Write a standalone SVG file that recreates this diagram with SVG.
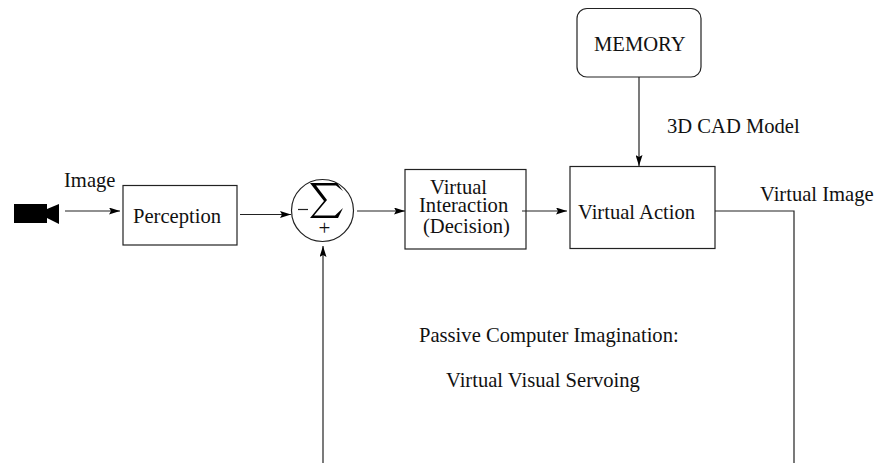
<svg xmlns="http://www.w3.org/2000/svg" width="875" height="463" viewBox="0 0 875 463">
<defs>
<marker id="arrow" markerUnits="userSpaceOnUse" markerWidth="11" markerHeight="7" refX="11" refY="3.500" orient="auto"><path d="M0,0 L11,3.500 L0,7 L2,3.500 Z" fill="#000"/></marker>
</defs>
<style>
text{font-family:"Liberation Serif","Times New Roman",serif;font-size:20.6px;fill:#111}
.b{fill:#fff;stroke:#222;stroke-width:1.2}
.c{fill:none;stroke:#222;stroke-width:1.2}
.a{marker-end:url(#arrow)}
</style>
<rect width="875" height="463" fill="#fff"/>
<g id="perception"><rect class="b" x="123" y="185.500" width="114" height="59.500"/><text x="133" y="223">Perception</text></g>
<g id="sum"><circle class="b" cx="322.500" cy="210.500" r="31"/>
<path d="M310 183H337L343 191L336 185.500H316L327 200L314 215.500H335L343 208L338 218H310L324 201Z" fill="#000"/>
<path class="c" d="M298 209.500H308"/>
<text x="318.500" y="235" style="font-size:21px">+</text></g>
<g id="interaction"><rect class="b" x="405" y="169.500" width="121" height="79.500"/>
<text x="430" y="194">Virtual</text><text x="419" y="212">Interaction</text><text x="423" y="233">(Decision)</text></g>
<g id="action"><rect class="b" x="570" y="166.500" width="145" height="82"/><text x="578" y="219">Virtual Action</text></g>
<g id="memory"><rect class="b" x="577" y="8.500" width="124" height="68.500" rx="10"/><text x="594" y="51">MEMORY</text></g>
<g id="connectors">
<path class="c a" d="M65 211H120"/>
<path class="c a" d="M240 214.500H291"/>
<path class="c a" d="M357 211H405"/>
<path class="c a" d="M522 211H567"/>
<path class="c a" d="M639 77V166"/>
<path class="c a" d="M323 463V246"/>
<path class="c" d="M715 211H794V463"/>
</g>
<g id="camera"><path d="M14 204H47V209L59 204V224L47 218V223H14Z" fill="#000"/></g>
<text x="64" y="187">Image</text>
<text x="667" y="133">3D CAD Model</text>
<text x="760" y="201">Virtual Image</text>
<text x="419" y="342">Passive Computer Imagination:</text>
<text x="446" y="387">Virtual Visual Servoing</text>
</svg>
